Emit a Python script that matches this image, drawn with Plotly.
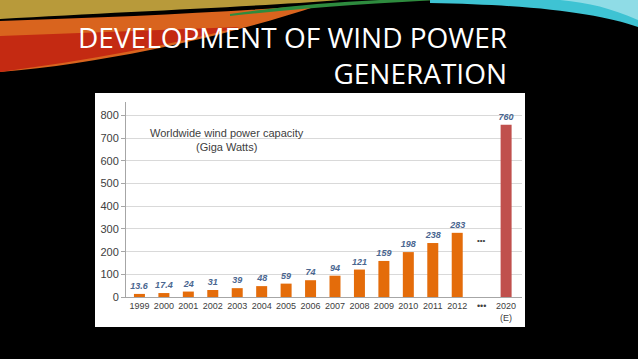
import plotly.graph_objects as go

# ---- data ----
categories = ["1999", "2000", "2001", "2002", "2003", "2004", "2005", "2006",
              "2007", "2008", "2009", "2010", "2011", "2012", "•••", "2020<br>(E)"]
capacity_gw = [13.6, 17.4, 24, 31, 39, 48, 59, 74, 94, 121, 159, 198, 238, 283, None, 760]
y_ticks = [0, 100, 200, 300, 400, 500, 600, 700, 800]

W, H = 638, 359
# plot area in pixels
PL, PR, PT, PB = 126, 522, 102, 297

def px(x):
    return (x - PL) / (PR - PL)

def py(y):
    return (PB - y) / (PB - PT)

def path(cmds):
    out = []
    for c in cmds:
        if isinstance(c, str):
            out.append(c)
        else:
            out.append(f"{px(c[0]):.4f},{py(c[1]):.4f}")
    return " ".join(out)

xs = list(range(len(categories)))
bx = [x for x, v in zip(xs, capacity_gw) if v is not None]
by = [v for v in capacity_gw if v is not None]
bcol = ["#C0504D" if i == len(categories) - 1 else "#E46C0A" for i in bx]

fig = go.Figure()
fig.add_trace(go.Bar(
    x=bx, y=by, width=0.45,
    marker=dict(color=bcol, line=dict(width=0)),
    texttemplate="%{y}", textposition="outside", constraintext="none",
    textfont=dict(family="Liberation Sans, Arial", size=9, color="#4A6690",
                  style="italic", weight="bold"),
    cliponaxis=False, hoverinfo="skip",
))

shapes = []
# decorative swooshes at top
shapes.append(dict(type="path", xref="paper", yref="paper", layer="below",
    path=path(["M", (0, 0), "L", (340, 0), "C", (250, 7), (120, 12), (0, 19), "Z"]),
    fillcolor="#B89A3A", line=dict(width=0)))
shapes.append(dict(type="path", xref="paper", yref="paper", layer="below",
    path=path(["M", (0, 21), "C", (120, 17), (230, 12), (320, 5), "C", (260, 25), (200, 40), (150, 50),
               "C", (100, 60), (50, 68), (0, 72), "Z"]),
    fillcolor="#D9641E", line=dict(width=0)))
shapes.append(dict(type="path", xref="paper", yref="paper", layer="below",
    path=path(["M", (0, 36), "C", (80, 33), (160, 30), (240, 27), "C", (170, 45), (90, 60), (0, 72), "Z"]),
    fillcolor="#C42A12", line=dict(width=0)))
shapes.append(dict(type="path", xref="paper", yref="paper", layer="below",
    path=path(["M", (230, 14), "C", (280, 7), (330, 2), (380, 0), "L", (440, 0),
               "C", (380, 3), (310, 7), (230, 16), "Z"]),
    fillcolor="#2E8B3E", line=dict(width=0)))
shapes.append(dict(type="path", xref="paper", yref="paper", layer="below",
    path=path(["M", (430, 0), "L", (638, 0), "L", (638, 27), "C", (600, 14), (540, 5), (430, 3), "Z"]),
    fillcolor="#3EC3D3", line=dict(width=0)))
shapes.append(dict(type="path", xref="paper", yref="paper", layer="below",
    path=path(["M", (560, 0), "L", (638, 0), "L", (638, 20), "C", (610, 8), (590, 3), (560, 0), "Z"]),
    fillcolor="#8FDCE6", line=dict(width=0)))
# white chart panel
shapes.append(dict(type="rect", xref="paper", yref="paper", layer="below",
    x0=px(95), x1=px(525), y0=py(327), y1=py(93),
    fillcolor="white", line=dict(width=0)))

annotations = [
    dict(xref="paper", yref="paper", x=px(509), y=py(16), xanchor="right", yanchor="top",
         text="DEVELOPMENT OF WIND POWER<br>GENERATION", align="right", showarrow=False,
         font=dict(family="Open Sans", size=28, color="white")),
    dict(xref="paper", yref="paper", x=px(227), y=py(140), xanchor="center", yanchor="middle",
         text="Worldwide wind power capacity<br>(Giga Watts)", align="center", showarrow=False,
         font=dict(family="Liberation Sans, Arial", size=11, color="#404040")),
    dict(x=14, y=250, xref="x", yref="y", text="•••", showarrow=False,
         font=dict(family="Liberation Sans, Arial", size=8, color="#404040")),
]

fig.update_layout(
    width=W, height=H,
    margin=dict(l=PL, r=W - PR, t=PT, b=H - PB, autoexpand=False),
    paper_bgcolor="black", plot_bgcolor="white",
    showlegend=False, shapes=shapes, annotations=annotations,
    bargap=0.5,
)
fig.update_xaxes(
    range=[-0.55, 15.65], tickvals=xs, ticktext=categories,
    tickfont=dict(family="Liberation Sans, Arial", size=9, color="#404040"),
    showgrid=False, showline=True, linecolor="#A6A6A6", linewidth=1,
    ticks="", zeroline=False, fixedrange=True, automargin=False,
)
fig.update_yaxes(
    range=[0, 860], tickvals=y_ticks,
    tickfont=dict(family="Liberation Sans, Arial", size=11, color="#404040"),
    showgrid=True, gridcolor="#D9D9D9", gridwidth=1,
    showline=True, linecolor="#A6A6A6", linewidth=1,
    ticks="outside", ticklen=4, tickcolor="#A6A6A6",
    zeroline=False, fixedrange=True, automargin=False,
)

fig.write_html(
    "out.html",
    config={"displayModeBar": False},
    post_script="document.body.style.margin='0';document.body.style.background='black';"
                "document.body.style.overflow='hidden';",
)
